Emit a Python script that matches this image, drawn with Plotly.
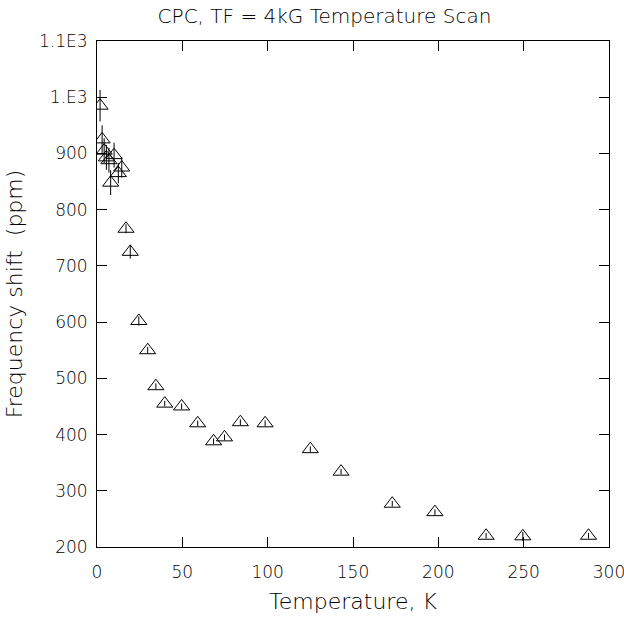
import plotly.graph_objects as go

# Temperature scan data
temperature_K = [1.8, 3.0, 4.2, 5.5, 7.0, 8.0, 10.0, 12.5, 14.5,
                 17.0, 19.5, 24.5, 29.7, 34.5, 39.7, 49.6, 59.0, 68.3,
                 74.7, 84.0, 98.5, 125.0, 143.0, 173.0, 198.0, 228.0,
                 249.5, 288.0]
freq_shift_ppm = [985, 925, 905, 893, 888, 848, 897, 865, 875,
                  766, 725, 602, 550, 486, 455, 450, 420, 388,
                  395, 422, 420, 374, 334, 277, 262, 220,
                  219, 220]
freq_err_ppm = [28, 25, 22, 22, 22, 22, 22, 18, 18,
                8, 12, 8, 6, 5, 5, 5, 5, 5,
                5, 5, 5, 5, 5, 5, 5, 5,
                8, 5]

x_ticks = [0, 50, 100, 150, 200, 250, 300]
y_ticks = [200, 300, 400, 500, 600, 700, 800, 900, 1000, 1100]
y_tick_text = ["200", "300", "400", "500", "600", "700", "800", "900", "1.E3", "1.1E3"]

FONT = "DejaVu Sans, sans-serif"
TICK_FONT = dict(family=FONT, size=17, color="black", weight=200)
AXIS_TITLE_FONT = dict(family=FONT, size=22, color="black", weight=200)
MAIN_TITLE_FONT = dict(family=FONT, size=20, color="black", weight=200)

fig = go.Figure()
fig.add_trace(go.Scatter(
    x=temperature_K,
    y=freq_shift_ppm,
    mode="markers",
    marker=dict(symbol="triangle-up-open", size=14, color="black",
                line=dict(width=1, color="black")),
    error_y=dict(type="data", array=freq_err_ppm, visible=True,
                 color="black", thickness=1, width=0),
    showlegend=False,
))

axis_common = dict(
    showgrid=False, zeroline=False, showline=True, linecolor="black",
    linewidth=1, mirror="allticks", ticks="inside", ticklen=10,
    tickcolor="black", tickwidth=1, tickfont=TICK_FONT,
    ticklabeloverflow="allow", automargin=False,
)

fig.update_xaxes(range=[0, 300], tickvals=x_ticks, ticklabelstandoff=10,
                 **axis_common,
                 title=dict(text="Temperature, K", font=AXIS_TITLE_FONT,
                            standoff=12))
fig.update_yaxes(range=[200, 1100], tickvals=y_ticks, ticktext=y_tick_text,
                 ticklabelstandoff=5, **axis_common,
                 title=dict(text="Frequency shift  (ppm)", font=AXIS_TITLE_FONT,
                            standoff=10))

fig.update_layout(
    width=624, height=622,
    margin=dict(l=97, r=15, t=41, b=75, autoexpand=False),
    paper_bgcolor="white", plot_bgcolor="white",
    title=dict(text="CPC, TF = 4kG Temperature Scan", x=0.52, xanchor="center",
               y=0.975, yanchor="middle", font=MAIN_TITLE_FONT),
)

fig.write_html("out.html")
